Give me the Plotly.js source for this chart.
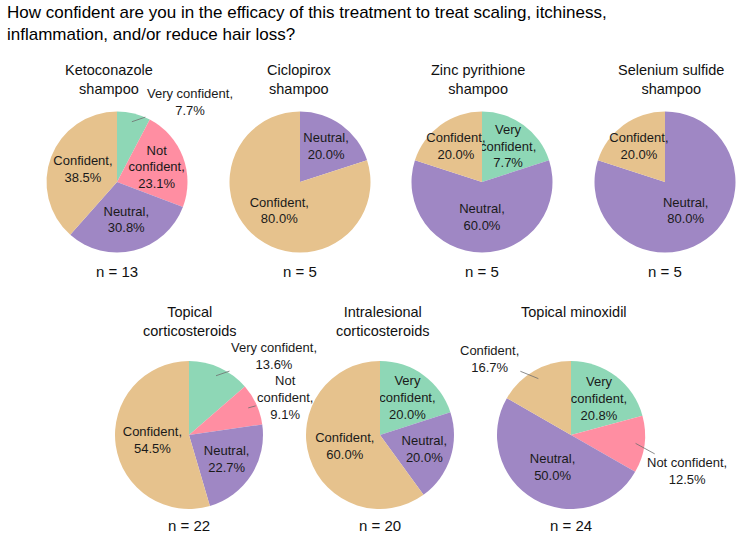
<!DOCTYPE html>
<html>
<head>
<meta charset="utf-8">
<script src="https://cdn.plot.ly/plotly-3.0.1.min.js"></script>
<style>
  html, body { margin: 0; padding: 0; background: #ffffff; }
  #chart { width: 750px; height: 537px; }
</style>
</head>
<body>
<div id="chart"></div>
<script>
// Survey: confidence in each treatment, share of respondents (%)
const questionText = 'How confident are you in the efficacy of this treatment to treat scaling, itchiness,<br>inflammation, and/or reduce hair loss?';
const treatments = [
  'Ketoconazole<br>shampoo',
  'Ciclopirox<br>shampoo',
  'Zinc pyrithione<br>shampoo',
  'Selenium sulfide<br>shampoo',
  'Topical<br>corticosteroids',
  'Intralesional<br>corticosteroids',
  'Topical minoxidil'
];
const respondents = [13, 5, 5, 5, 22, 20, 24];

// Response levels per treatment, listed clockwise from 12 o'clock
const ketoconazoleLevels = ['Very confident', 'Not confident', 'Neutral', 'Confident'];
const ketoconazoleShares = [7.7, 23.1, 30.8, 38.5];

const ciclopiroxLevels = ['Neutral', 'Confident'];
const ciclopiroxShares = [20.0, 80.0];

const zincLevels = ['Very confident', 'Neutral', 'Confident'];
const zincShares = [20.0, 60.0, 20.0];
const zincPrinted = [7.7, 60.0, 20.0];   // percentages as printed on the slices

const seleniumLevels = ['Neutral', 'Confident'];
const seleniumShares = [80.0, 20.0];

const topicalSteroidLevels = ['Very confident', 'Not confident', 'Neutral', 'Confident'];
const topicalSteroidShares = [13.6, 9.1, 22.7, 54.5];

const intralesionalLevels = ['Very confident', 'Neutral', 'Confident'];
const intralesionalShares = [20.0, 20.0, 60.0];

const minoxidilLevels = ['Very confident', 'Not confident', 'Neutral', 'Confident'];
const minoxidilShares = [20.8, 12.5, 50.0, 16.7];

// ---- presentation -------------------------------------------------------
const W = 750, H = 537;
const levelColors = {
  'Very confident': '#8ED7B6',
  'Not confident':  '#FF8EA2',
  'Neutral':        '#9F87C4',
  'Confident':      '#E6C28D'
};

// label placement per slice: 'in' = name on one line, 'stack' = name split over lines,
// 'out' = callout beside the pie, 'outstack' = callout with the name split
const placements = [
  ['out', 'stack', 'in', 'in'],
  ['in', 'in'],
  ['stack', 'in', 'in'],
  ['in', 'in'],
  ['out', 'outstack', 'in', 'in'],
  ['stack', 'in', 'in'],
  ['stack', 'out', 'in', 'out']
];
// pie centre (px) and radius (px)
const pieGeom = [
  [117, 182, 70.5], [300, 182, 70.5], [482, 182, 70.5], [665, 182, 70.5],
  [189, 435, 74], [380, 435, 74], [571, 435, 74]
];
// callout text offsets (px) from the leader-line tip: {pie: {slice: [dx, dy]}}
const calloutOffsets = {
  0: {0: [58, -20]},
  4: {0: [58, -20], 1: [37, -10]},
  6: {1: [51, 28], 3: [-49, -20]}
};
const titleX = [109, 299, 478, 671, 189, 382, 574];
const titleTop = [60, 60, 60, 60, 302, 302, 302];
const countY = [271, 271, 271, 271, 525, 525, 525];

const series = [
  [ketoconazoleLevels, ketoconazoleShares, ketoconazoleShares],
  [ciclopiroxLevels, ciclopiroxShares, ciclopiroxShares],
  [zincLevels, zincShares, zincPrinted],
  [seleniumLevels, seleniumShares, seleniumShares],
  [topicalSteroidLevels, topicalSteroidShares, topicalSteroidShares],
  [intralesionalLevels, intralesionalShares, intralesionalShares],
  [minoxidilLevels, minoxidilShares, minoxidilShares]
];

const baseFamily = 'Liberation Sans, Arial, sans-serif';
const labelFont = {family: baseFamily, size: 13, color: '#1a1a1a'};
const headFont = {family: baseFamily, size: 14.5, color: '#111'};

function sliceLabel(level, pct, mode) {
  const stacked = mode === 'stack' || mode === 'outstack';
  const name = stacked ? level.replace(' ', '<br>') : level;
  return name + ',<br>' + pct.toFixed(1) + '%';
}
const isOut = p => p === 'out' || p === 'outstack';

const traces = [];
const annotations = [];

series.forEach(([levels, shares, printed], k) => {
  const [cx, cy, r] = pieGeom[k];
  const place = placements[k];
  traces.push({
    type: 'pie',
    labels: levels,
    values: shares,
    text: levels.map((lv, i) => isOut(place[i]) ? '' : sliceLabel(lv, printed[i], place[i])),
    textinfo: 'text',
    textposition: place.map(p => isOut(p) ? 'none' : 'inside'),
    insidetextorientation: 'horizontal',
    insidetextfont: labelFont,
    sort: false,
    direction: 'clockwise',
    rotation: 0,
    marker: {colors: levels.map(lv => levelColors[lv]), line: {width: 0}},
    domain: {
      x: [(cx - r) / W, (cx + r) / W],
      y: [1 - (cy + r) / H, 1 - (cy - r) / H]
    },
    hoverinfo: 'label+text',
    showlegend: false
  });

  // callouts with leader lines for slices labelled outside the pie
  const total = shares.reduce((a, b) => a + b, 0);
  let cum = 0;
  shares.forEach((v, i) => {
    const mid = (cum + v / 2) / total;
    cum += v;
    if (!isOut(place[i])) return;
    const theta = 2 * Math.PI * mid;
    const tx = cx + 0.88 * r * Math.sin(theta);
    const ty = cy - 0.88 * r * Math.cos(theta);
    const [dx, dy] = calloutOffsets[k][i];
    annotations.push({
      xref: 'paper', yref: 'paper',
      x: tx / W, y: 1 - ty / H,
      ax: dx, ay: dy,
      text: sliceLabel(levels[i], printed[i], place[i]),
      showarrow: true, arrowhead: 0, arrowwidth: 0.8, arrowcolor: '#6e6e6e',
      standoff: 0, startstandoff: 0,
      font: labelFont, align: 'center'
    });
  });

  // treatment heading and sample size
  annotations.push({
    xref: 'paper', yref: 'paper', x: titleX[k] / W, y: 1 - titleTop[k] / H,
    xanchor: 'center', yanchor: 'top', showarrow: false,
    text: treatments[k], font: headFont
  });
  annotations.push({
    xref: 'paper', yref: 'paper', x: cx / W, y: 1 - countY[k] / H,
    xanchor: 'center', yanchor: 'middle', showarrow: false,
    text: 'n = ' + respondents[k],
    font: {family: baseFamily, size: 15, color: '#111'}
  });
});

// survey question across the top
annotations.push({
  xref: 'paper', yref: 'paper', x: 5 / W, y: 1 - 1 / H,
  xanchor: 'left', yanchor: 'top', align: 'left', showarrow: false,
  text: questionText,
  font: {family: baseFamily, size: 17, color: '#000'}
});

const layout = {
  width: W, height: H,
  margin: {l: 0, r: 0, t: 0, b: 0},
  paper_bgcolor: '#ffffff',
  plot_bgcolor: '#ffffff',
  uniformtext: {minsize: 13, mode: 'show'},
  annotations: annotations
};

Plotly.newPlot('chart', traces, layout, {displayModeBar: false, staticPlot: true});
</script>
</body>
</html>
